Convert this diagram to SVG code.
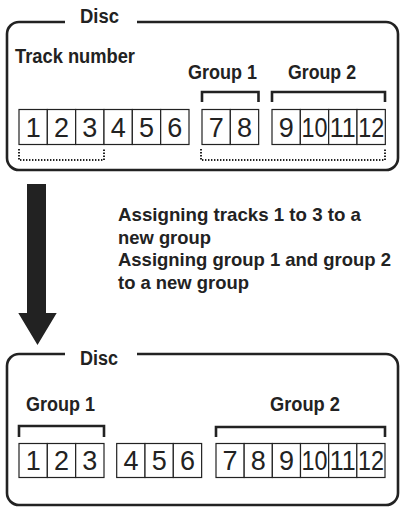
<svg xmlns="http://www.w3.org/2000/svg" width="401" height="509" viewBox="0 0 401 509">
<style>
.frame{fill:none;stroke:#222;stroke-width:2.6}
.cell{fill:#fff;stroke:#222;stroke-width:1.2}
.num{font-family:"Liberation Sans",Arial,sans-serif;font-size:27px;fill:#222;text-anchor:middle}
.lbl{font-family:"Liberation Sans",Arial,sans-serif;font-size:20px;font-weight:bold;fill:#222}
.op{font-family:"Liberation Sans",Arial,sans-serif;font-size:19px;font-weight:bold;fill:#222}
.br{fill:none;stroke:#222;stroke-width:2.6}
.dot{fill:none;stroke:#222;stroke-width:2;stroke-dasharray:1.4 1.6}
</style>
<rect width="401" height="509" fill="#fff"/>
<g id="disc-before">
<path class="frame" d="M65,22 H19 A12,12 0 0 0 7,34 V158 A12,12 0 0 0 19,170 H386 A12,12 0 0 0 398,158 V34 A12,12 0 0 0 386,22 H137"/>
<text class="lbl" x="80" y="22.5" textLength="39" lengthAdjust="spacingAndGlyphs">Disc</text>
<text class="lbl" x="15" y="63" textLength="120" lengthAdjust="spacingAndGlyphs">Track number</text>
<g id="tracks-before">
<rect class="cell" x="19" y="109.5" width="28.33" height="35"/>
<rect class="cell" x="47.33" y="109.5" width="28.33" height="35"/>
<rect class="cell" x="75.67" y="109.5" width="28.33" height="35"/>
<rect class="cell" x="104" y="109.5" width="28.33" height="35"/>
<rect class="cell" x="132.33" y="109.5" width="28.33" height="35"/>
<rect class="cell" x="160.67" y="109.5" width="28.33" height="35"/>
<text class="num" x="33.2" y="136.5">1</text>
<text class="num" x="61.5" y="136.5">2</text>
<text class="num" x="89.8" y="136.5">3</text>
<text class="num" x="118.2" y="136.5">4</text>
<text class="num" x="146.5" y="136.5">5</text>
<text class="num" x="174.8" y="136.5">6</text>
</g>
<g id="group1-before">
<text class="lbl" x="188" y="79" textLength="69" lengthAdjust="spacingAndGlyphs">Group 1</text>
<path class="br" d="M202,102 V92 H258.5 V102"/>
<rect class="cell" x="202" y="109.5" width="28.33" height="35"/>
<rect class="cell" x="230.33" y="109.5" width="28.33" height="35"/>
<text class="num" x="216.2" y="136.5">7</text>
<text class="num" x="244.5" y="136.5">8</text>
</g>
<g id="group2-before">
<text class="lbl" x="288" y="79" textLength="68" lengthAdjust="spacingAndGlyphs">Group 2</text>
<path class="br" d="M272,102 V92 H385 V102"/>
<rect class="cell" x="272" y="109.5" width="28.33" height="35"/>
<rect class="cell" x="300.33" y="109.5" width="28.33" height="35"/>
<rect class="cell" x="328.67" y="109.5" width="28.33" height="35"/>
<rect class="cell" x="357" y="109.5" width="28.33" height="35"/>
<text class="num" x="286.2" y="136.5">9</text>
<text class="num" x="314.5" y="136.5" textLength="26" lengthAdjust="spacingAndGlyphs">10</text>
<text class="num" x="342.8" y="136.5" textLength="26" lengthAdjust="spacingAndGlyphs">11</text>
<text class="num" x="371.2" y="136.5" textLength="26" lengthAdjust="spacingAndGlyphs">12</text>
</g>
<path class="dot" d="M19,149 V160 H104 V149"/>
<path class="dot" d="M201,149 V160 H385 V149"/>
</g>
<g id="connectors">
<polygon fill="#222" points="27,184 46,184 46,313 56.7,313 37.5,345 18.3,313 27,313"/>
</g>
<g id="operation-text">
<text class="op" x="118" y="221" textLength="243" lengthAdjust="spacingAndGlyphs">Assigning tracks 1 to 3 to a</text>
<text class="op" x="118" y="243.5" textLength="93" lengthAdjust="spacingAndGlyphs">new group</text>
<text class="op" x="118" y="266" textLength="273" lengthAdjust="spacingAndGlyphs">Assigning group 1 and group 2</text>
<text class="op" x="118" y="289" textLength="131" lengthAdjust="spacingAndGlyphs">to a new group</text>
</g>
<g id="disc-after">
<path class="frame" d="M65,354 H19 A12,12 0 0 0 7,366 V493 A12,12 0 0 0 19,505 H386 A12,12 0 0 0 398,493 V366 A12,12 0 0 0 386,354 H137"/>
<text class="lbl" x="80" y="364.5" textLength="38" lengthAdjust="spacingAndGlyphs">Disc</text>
<g id="group1-after">
<text class="lbl" x="26" y="411" textLength="69" lengthAdjust="spacingAndGlyphs">Group 1</text>
<path class="br" d="M19,437 V426 H104 V437"/>
<rect class="cell" x="19" y="443.5" width="28.33" height="34"/>
<rect class="cell" x="47.33" y="443.5" width="28.33" height="34"/>
<rect class="cell" x="75.67" y="443.5" width="28.33" height="34"/>
<text class="num" x="33.2" y="470">1</text>
<text class="num" x="61.5" y="470">2</text>
<text class="num" x="89.8" y="470">3</text>
</g>
<g id="tracks-after">
<rect class="cell" x="116.7" y="443.5" width="28.33" height="34"/>
<rect class="cell" x="145" y="443.5" width="28.33" height="34"/>
<rect class="cell" x="173.3" y="443.5" width="28.33" height="34"/>
<text class="num" x="130.9" y="470">4</text>
<text class="num" x="159.2" y="470">5</text>
<text class="num" x="187.5" y="470">6</text>
</g>
<g id="group2-after">
<text class="lbl" x="270" y="410.5" textLength="70" lengthAdjust="spacingAndGlyphs">Group 2</text>
<path class="br" d="M216,437 V427 H385 V437"/>
<rect class="cell" x="216" y="443.5" width="28.17" height="34"/>
<rect class="cell" x="244.17" y="443.5" width="28.17" height="34"/>
<rect class="cell" x="272.33" y="443.5" width="28.17" height="34"/>
<rect class="cell" x="300.5" y="443.5" width="28.17" height="34"/>
<rect class="cell" x="328.67" y="443.5" width="28.17" height="34"/>
<rect class="cell" x="356.83" y="443.5" width="28.17" height="34"/>
<text class="num" x="230.1" y="470">7</text>
<text class="num" x="258.2" y="470">8</text>
<text class="num" x="286.4" y="470">9</text>
<text class="num" x="314.6" y="470" textLength="26" lengthAdjust="spacingAndGlyphs">10</text>
<text class="num" x="342.8" y="470" textLength="26" lengthAdjust="spacingAndGlyphs">11</text>
<text class="num" x="370.9" y="470" textLength="26" lengthAdjust="spacingAndGlyphs">12</text>
</g>
</g>
</svg>
